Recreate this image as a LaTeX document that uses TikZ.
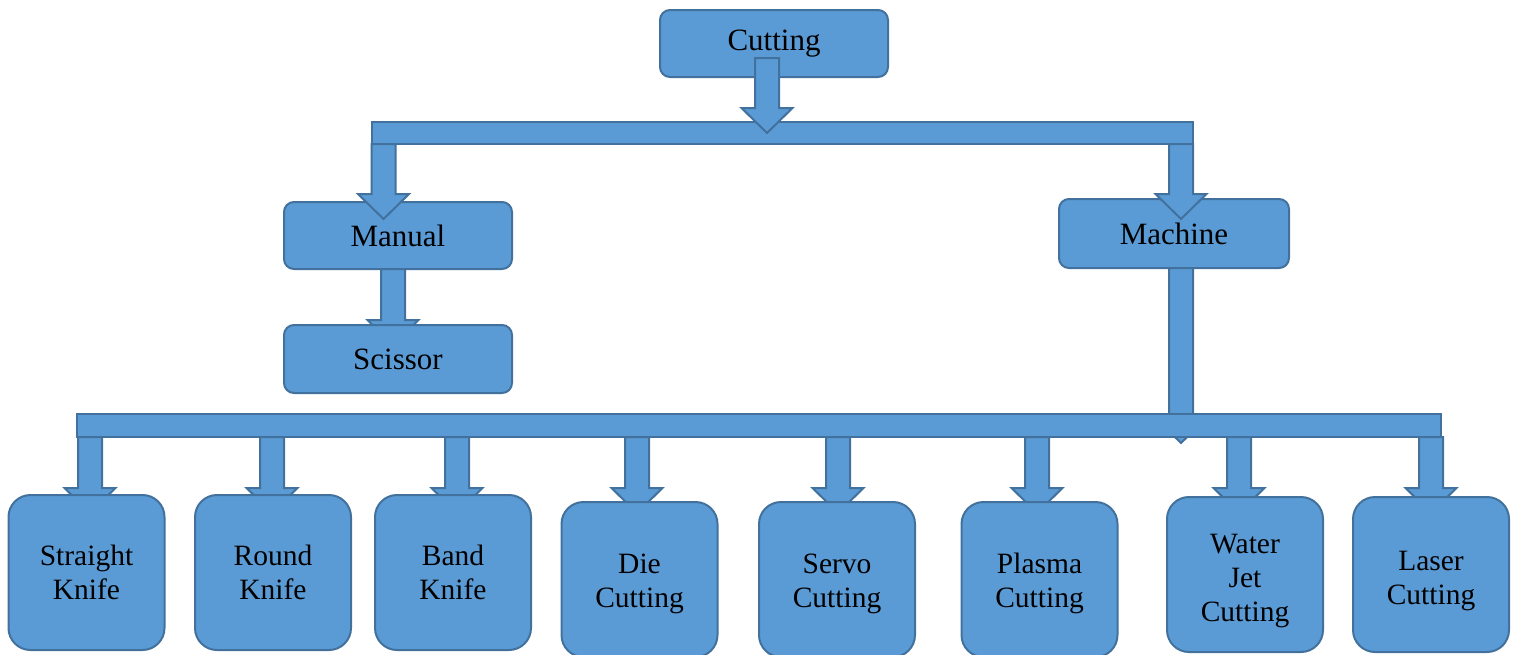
\documentclass[tikz,border=0pt]{standalone}
\usepackage{fontspec}
\setmainfont{Liberation Serif}
\usetikzlibrary{calc}
\definecolor{boxfill}{HTML}{5B9BD5}
\definecolor{boxline}{HTML}{41719C}
\pgfdeclarelayer{back}
\pgfdeclarelayer{front}
\pgfsetlayers{back,main,front}
% block arrow: shaft from #1 down to a triangular head whose tip is at #2
\newcommand\blockarrow[2]{%
  \coordinate (ba-s) at #1;
  \coordinate (ba-t) at #2;
  \path[arrowshape] let \p1=(ba-s), \p2=(ba-t) in
    (\x1-12pt,\y1) -- (\x1+12pt,\y1) -- (\x1+12pt,\y2+25pt)
    -- (\x1+25.5pt,\y2+25pt) -- (\x1,\y2) -- (\x1-25.5pt,\y2+25pt)
    -- (\x1-12pt,\y2+25pt) -- cycle;}
\begin{document}
\begin{tikzpicture}[x=1pt,y=-1pt,
  frame/.style={fill=boxfill,draw=boxline,line width=2pt},
  topbox/.style={frame,rectangle,rounded corners=10pt,inner sep=0pt,outer sep=0pt,
    font=\fontsize{31}{37}\selectfont},
  leafbox/.style={frame,rectangle,rounded corners=22pt,minimum width=156pt,
    minimum height=155pt,inner sep=0pt,outer sep=0pt,align=center,
    font=\fontsize{29.5}{34}\selectfont},
  % invisible strut taller than the text block, so the text sits lower in its box
  lowtext/.style={execute at begin node={\rule{0pt}{#1}}},
  barshape/.style={frame,rectangle,inner sep=0pt,outer sep=0pt},
  arrowshape/.style={frame,line join=miter}]
\useasboundingbox (0,0) rectangle (1515,654);

% upper boxes, underneath the arrows
\begin{pgfonlayer}{back}
  \node[topbox,minimum width=228pt,minimum height=67pt] (cut) at (774,43.5) {Cutting};
  \node[topbox,minimum width=228pt,minimum height=67pt] (manual) at (398,235.5) {Manual};
  \node[topbox,minimum width=230pt,minimum height=69pt] (machine) at (1174,233.5) {Machine};
\end{pgfonlayer}

% boxes that cover the tips of the arrows reaching them
\begin{pgfonlayer}{front}
  \node[topbox,minimum width=228pt,minimum height=68pt] (scissor) at (398,359) {Scissor};
  \node[leafbox] (b1) at (86.5,572.5) {Straight\\Knife};
  \node[leafbox] (b2) at (273,572.5) {Round\\Knife};
  \node[leafbox] (b3) at (453,572.5) {Band\\Knife};
  \node[leafbox,lowtext=62pt] (b4) at (639.5,579.5) {Die\\Cutting};
  \node[leafbox,lowtext=62pt] (b5) at (837,579.5) {Servo\\Cutting};
  \node[leafbox,lowtext=62pt] (b6) at (1039.5,579.5) {Plasma\\Cutting};
  \node[leafbox,lowtext=99.5pt] (b7) at (1245,574.5) {Water\\Jet\\Cutting};
  \node[leafbox,lowtext=66pt] (b8) at (1431,574.5) {Laser\\Cutting};
\end{pgfonlayer}

% upper distribution bar and its arrows
\node[barshape,minimum width=821pt,minimum height=22pt] (bar1) at (782.5,133) {};
\blockarrow{($(cut.south)+(-7,-19)$)}{($(cut.south |- bar1.center)+(-7,0)$)}
\blockarrow{($(bar1.south west)+(11.5,0)$)}{($(bar1.south west)+(11.5,75)$)}
\blockarrow{($(bar1.south east)+(-12,0)$)}{($(bar1.south east)+(-12,75)$)}

% manual branch
\blockarrow{($(manual.south)+(-5,0)$)}{($(scissor.north)+(-5,20)$)}

% machine branch and lower distribution bar
\blockarrow{($(machine.south)+(7,0)$)}{($(machine.south)+(7,175)$)}
\node[barshape,minimum width=1364pt,minimum height=23pt] (bar2) at (759,425.5) {};
\foreach \b/\dx in {b1/3.5,b2/-1,b3/4,b4/-2.5,b5/1,b6/-2.5,b7/-6,b8/0}{
  \blockarrow{($(bar2.south -| \b.north)+(\dx,0)$)}{($(bar2.south -| \b.north)+(\dx,76)$)}
}
\end{tikzpicture}
\end{document}
